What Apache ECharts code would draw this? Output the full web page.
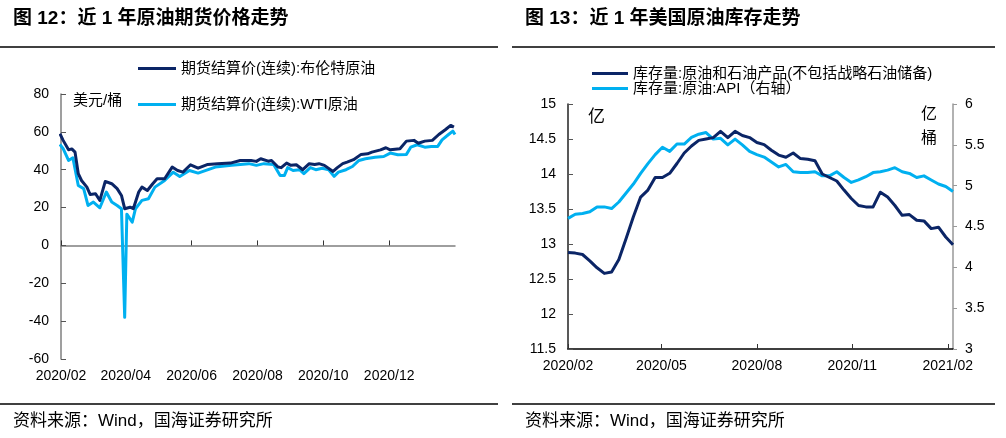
<!DOCTYPE html>
<html><head><meta charset="utf-8">
<script src="https://cdn.jsdelivr.net/npm/echarts@6/dist/echarts.min.js"></script>
<style>html,body{margin:0;padding:0;background:#fff}#c{width:1006px;height:438px}</style>
</head><body><div id="c"></div>
<script>
const FONT = "'Liberation Sans','Noto Sans CJK SC',sans-serif";

// ---- Figure 12: futures settlement prices (USD/bbl)
const brentDates = ['2020-02-20','2020-02-23','2020-02-28','2020-03-02','2020-03-05','2020-03-08','2020-03-11','2020-03-16','2020-03-19','2020-03-24','2020-03-28','2020-04-02','2020-04-08','2020-04-13','2020-04-17','2020-04-20','2020-04-25','2020-04-28','2020-05-03','2020-05-06','2020-05-11','2020-05-16','2020-05-20','2020-05-27','2020-06-03','2020-06-08','2020-06-13','2020-06-20','2020-06-27','2020-07-06','2020-07-15','2020-07-27','2020-08-05','2020-08-15','2020-08-20','2020-08-24','2020-08-31','2020-09-03','2020-09-09','2020-09-12','2020-09-17','2020-09-21','2020-09-26','2020-10-02','2020-10-08','2020-10-13','2020-10-17','2020-10-22','2020-10-30','2020-11-03','2020-11-08','2020-11-12','2020-11-18','2020-11-25','2020-12-01','2020-12-05','2020-12-13','2020-12-18','2020-12-22','2020-12-31','2021-01-06','2021-01-13','2021-01-17','2021-01-23','2021-01-30','2021-02-05','2021-02-11','2021-02-16','2021-02-19'];
const brentPrice = [59.0,55.5,50.5,51.0,49.3,37.9,34.3,30.8,26.9,27.3,23.8,33.8,32.6,30.0,26.4,19.4,20.2,19.4,28.2,30.8,29.0,32.6,35.2,35.2,41.4,39.6,38.7,42.6,40.8,42.8,43.2,43.5,44.9,44.9,44.4,45.8,44.5,44.9,41.4,41.1,43.5,42.3,42.6,40.0,43.2,42.8,43.2,42.3,39.1,41.1,43.2,44.0,45.3,48.1,48.4,49.3,50.5,51.6,50.5,51.1,55.1,55.5,54.0,55.1,55.5,58.6,61.1,63.4,62.5];
const wtiDates = ['2020-02-20','2020-02-23','2020-02-28','2020-03-03','2020-03-08','2020-03-13','2020-03-17','2020-03-22','2020-03-28','2020-04-03','2020-04-08','2020-04-13','2020-04-17','2020-04-20','2020-04-22','2020-04-27','2020-04-30','2020-05-06','2020-05-12','2020-05-18','2020-05-27','2020-06-04','2020-06-10','2020-06-19','2020-06-27','2020-07-13','2020-07-28','2020-08-13','2020-08-20','2020-08-27','2020-09-05','2020-09-11','2020-09-15','2020-09-18','2020-09-23','2020-09-29','2020-10-03','2020-10-09','2020-10-14','2020-10-20','2020-10-26','2020-10-31','2020-11-04','2020-11-11','2020-11-17','2020-11-23','2020-11-29','2020-12-08','2020-12-16','2020-12-22','2020-12-29','2021-01-06','2021-01-10','2021-01-16','2021-01-23','2021-01-29','2021-02-04','2021-02-08','2021-02-14','2021-02-18','2021-02-20'];
const wtiPrice = [53.4,51.1,44.9,46.3,31.7,30.0,21.1,22.9,19.9,28.2,22.9,21.1,19.4,-38.0,16.5,12.3,19.4,23.8,24.7,30.8,34.3,38.7,36.4,39.6,38.2,41.4,42.3,43.2,42.3,43.2,42.8,37.0,37.0,41.1,39.6,40.0,37.9,41.1,40.0,40.8,40.0,36.5,38.7,40.0,41.7,44.9,45.8,46.6,47.0,48.8,47.9,48.1,51.9,53.2,51.9,52.3,52.3,55.8,58.6,60.4,58.6];
const leftTicks = ['2020-02-21','2020-04-21','2020-06-21','2020-08-21','2020-10-21','2020-12-21'];
const leftYTicks = {min:-60, max:80, interval:20};

// ---- Figure 13: US crude inventories (亿桶), weekly
const weekDates = ['2020-02-07','2020-02-14','2020-02-21','2020-02-28','2020-03-06','2020-03-13','2020-03-20','2020-03-27','2020-04-03','2020-04-10','2020-04-17','2020-04-24','2020-05-01','2020-05-08','2020-05-15','2020-05-22','2020-05-29','2020-06-05','2020-06-12','2020-06-19','2020-06-26','2020-07-03','2020-07-10','2020-07-17','2020-07-24','2020-07-31','2020-08-07','2020-08-14','2020-08-21','2020-08-28','2020-09-04','2020-09-11','2020-09-18','2020-09-25','2020-10-02','2020-10-09','2020-10-16','2020-10-23','2020-10-30','2020-11-06','2020-11-13','2020-11-20','2020-11-27','2020-12-04','2020-12-11','2020-12-18','2020-12-25','2021-01-01','2021-01-08','2021-01-15','2021-01-22','2021-01-29','2021-02-05','2021-02-12'];
const totalStocks = [12.88,12.87,12.85,12.76,12.66,12.58,12.60,12.78,13.08,13.39,13.67,13.77,13.95,13.95,14.01,14.15,14.30,14.40,14.48,14.50,14.52,14.61,14.52,14.61,14.55,14.52,14.45,14.42,14.34,14.27,14.24,14.30,14.22,14.21,14.19,14.00,13.95,13.90,13.77,13.65,13.55,13.53,13.53,13.74,13.67,13.55,13.41,13.42,13.34,13.33,13.22,13.24,13.10,12.99];
const apiCrude = [4.60,4.65,4.66,4.68,4.74,4.74,4.72,4.80,4.91,5.02,5.15,5.27,5.38,5.47,5.42,5.51,5.51,5.59,5.63,5.65,5.57,5.58,5.50,5.57,5.50,5.42,5.38,5.35,5.29,5.23,5.26,5.17,5.16,5.16,5.17,5.12,5.12,5.17,5.10,5.04,5.07,5.11,5.16,5.17,5.19,5.22,5.17,5.15,5.10,5.12,5.07,5.02,4.99,4.93];
const rightTicks = ['2020-02-07','2020-05-07','2020-08-07','2020-11-07','2021-02-07'];

const names = ['期货结算价(连续):布伦特原油','期货结算价(连续):WTI原油','库存量:原油和石油产品(不包括战略石油储备)','库存量:原油:API（右轴）'];
const DARK = '#0b2566', LIGHT = '#00b0f0';

function ts(s){const p=s.split('-');return new Date(+p[0],+p[1]-1,+p[2]).getTime();}
function fmt(v){const d=new Date(v);return d.getFullYear()+'/'+String(d.getMonth()+1).padStart(2,'0');}
function zip(ds,vs){return ds.map((d,i)=>[ts(d),vs[i]]);}

const labelStyle = {fontSize:14, color:'#000', fontFamily:FONT};
const L_MIN = ts('2020-02-21'), L_MAX = ts('2021-02-20');
const chart = echarts.init(document.getElementById('c'));
chart.setOption({
  animation:false,
  grid:[{left:61,top:94,width:394,height:265,outerBoundsMode:'none',containLabel:false},
        {left:568,top:104,width:385,height:245,outerBoundsMode:'none',containLabel:false}],
  xAxis:[
    // left chart: labels along the bottom of the plot
    {gridIndex:0,type:'value',position:'bottom',min:L_MIN,max:L_MAX,
     axisLine:{show:false,onZero:false},axisTick:{show:false},
     axisLabel:Object.assign({customValues:leftTicks.map(ts),formatter:fmt,margin:10},labelStyle),
     splitLine:{show:false}},
    // right chart
    {gridIndex:1,type:'value',min:ts('2020-02-07'),max:ts('2021-02-12'),
     axisLine:{onZero:false,lineStyle:{color:'#000',width:1.5}},
     axisTick:{show:true,inside:true,length:5,customValues:rightTicks.map(ts),lineStyle:{color:'#333'}},
     axisLabel:Object.assign({customValues:rightTicks.map(ts),formatter:fmt,margin:10},labelStyle),
     splitLine:{show:false}},
    // left chart: axis line at y = 0 with its ticks
    {gridIndex:0,type:'value',position:'bottom',min:L_MIN,max:L_MAX,
     axisLine:{show:true,onZero:true,onZeroAxisIndex:0,lineStyle:{color:'#7f7f7f',width:1.5}},
     axisTick:{show:true,inside:true,length:5,customValues:leftTicks.map(ts),lineStyle:{color:'#333'}},
     axisLabel:{show:false},splitLine:{show:false}}
  ],
  yAxis:[
    {gridIndex:0,type:'value',min:leftYTicks.min,max:leftYTicks.max,interval:leftYTicks.interval,
     axisLine:{show:true,lineStyle:{color:'#7f7f7f',width:1.5}},
     axisTick:{show:true,inside:true,length:5,lineStyle:{color:'#555'}},
     axisLabel:Object.assign({margin:12},labelStyle),splitLine:{show:false}},
    {gridIndex:1,type:'value',min:11.5,max:15,interval:0.5,
     axisLine:{show:true,lineStyle:{color:'#222',width:1.5}},
     axisTick:{show:true,inside:true,length:5,lineStyle:{color:'#555'}},
     axisLabel:Object.assign({margin:12},labelStyle),splitLine:{show:false}},
    {gridIndex:1,type:'value',position:'right',min:3,max:6,interval:0.5,
     axisLine:{show:true,lineStyle:{color:'#999',width:1.5}},
     axisTick:{show:true,inside:false,length:4,lineStyle:{color:'#999'}},
     axisLabel:Object.assign({margin:12},labelStyle),splitLine:{show:false}}
  ],
  legend:[
    {data:[names[0],names[1]],left:138,top:61,padding:0,orient:'vertical',icon:'rect',itemWidth:38,itemHeight:3,itemGap:21,
     textStyle:{fontSize:15,lineHeight:14,color:'#000',fontFamily:FONT},selectedMode:false},
    {data:[names[2],names[3]],left:592,top:66,padding:0,orient:'vertical',icon:'rect',itemWidth:36,itemHeight:3,itemGap:0,
     textStyle:{fontSize:15,lineHeight:14,color:'#000',fontFamily:FONT},selectedMode:false}
  ],
  series:[
    {name:names[0],type:'line',xAxisIndex:0,yAxisIndex:0,data:zip(brentDates,brentPrice),symbol:'none',z:3,
     lineStyle:{color:DARK,width:3,join:'round'},itemStyle:{color:DARK}},
    {name:names[1],type:'line',xAxisIndex:0,yAxisIndex:0,data:zip(wtiDates,wtiPrice),symbol:'none',z:2,
     lineStyle:{color:LIGHT,width:3,join:'round'},itemStyle:{color:LIGHT}},
    {name:names[2],type:'line',xAxisIndex:1,yAxisIndex:1,data:zip(weekDates,totalStocks),symbol:'none',z:3,
     lineStyle:{color:DARK,width:3,join:'round'},itemStyle:{color:DARK}},
    {name:names[3],type:'line',xAxisIndex:1,yAxisIndex:2,data:zip(weekDates,apiCrude),symbol:'none',z:2,
     lineStyle:{color:LIGHT,width:3,join:'round'},itemStyle:{color:LIGHT}}
  ],
  graphic:[
    {type:'text',x:13,y:19,style:{text:'图 12：近 1 年原油期货价格走势',font:'bold 19px '+FONT,fill:'#000',verticalAlign:'middle'}},
    {type:'text',x:525,y:19,style:{text:'图 13：近 1 年美国原油库存走势',font:'bold 19px '+FONT,fill:'#000',verticalAlign:'middle'}},
    {type:'line',shape:{x1:0,y1:47,x2:498,y2:47},style:{stroke:'#000',lineWidth:1.5}},
    {type:'line',shape:{x1:512,y1:47,x2:995,y2:47},style:{stroke:'#000',lineWidth:1.5}},
    {type:'line',shape:{x1:0,y1:404,x2:498,y2:404},style:{stroke:'#000',lineWidth:1.5}},
    {type:'line',shape:{x1:512,y1:404,x2:995,y2:404},style:{stroke:'#000',lineWidth:1.5}},
    {type:'text',x:13,y:421,style:{text:'资料来源：Wind，国海证券研究所',font:'17px '+FONT,fill:'#000',verticalAlign:'middle'}},
    {type:'text',x:525,y:421,style:{text:'资料来源：Wind，国海证券研究所',font:'17px '+FONT,fill:'#000',verticalAlign:'middle'}},
    {type:'text',x:73,y:101,style:{text:'美元/桶',font:'15px '+FONT,fill:'#000',verticalAlign:'middle'}},
    {type:'text',x:588,y:117,style:{text:'亿',font:'17px '+FONT,fill:'#000',verticalAlign:'middle'}},
    {type:'text',x:921,y:115,style:{text:'亿',font:'16px '+FONT,fill:'#000',verticalAlign:'middle'}},
    {type:'text',x:921,y:139,style:{text:'桶',font:'16px '+FONT,fill:'#000',verticalAlign:'middle'}}
  ]
});
</script></body></html>
